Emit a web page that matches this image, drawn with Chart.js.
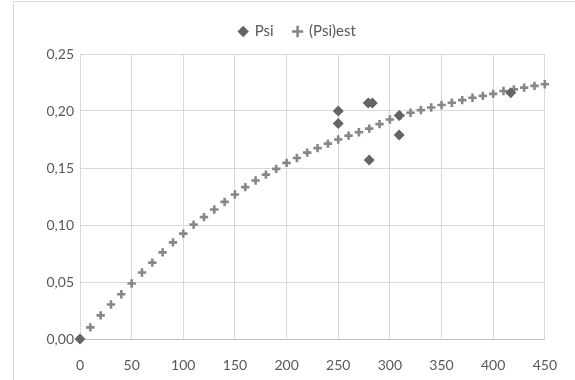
<!DOCTYPE html>
<html>
<head>
<meta charset="utf-8">
<script src="https://cdn.jsdelivr.net/npm/chart.js@4/dist/chart.umd.min.js"></script>
<style>
  html, body { margin: 0; padding: 0; background: #ffffff; }
  #wrap { position: relative; width: 575px; height: 380px; }
</style>
</head>
<body>
<div id="wrap"><canvas id="c" width="575" height="380"></canvas></div>
<script>
// ---- data ----
const psiX = [0, 250, 250, 279, 283, 280, 309, 309, 417];
const psiY = [0.000, 0.200, 0.189, 0.207, 0.207, 0.157, 0.179, 0.196, 0.216];

const estX = [10, 20, 30, 40, 50, 60, 70, 80, 90, 100,
              110, 120, 130, 140, 150, 160, 170, 180, 190, 200,
              210, 220, 230, 240, 250, 260, 270, 280, 290, 300,
              310, 320, 330, 340, 350, 360, 370, 380, 390, 400,
              410, 420, 430, 440, 450];
const estY = [0.0102, 0.0207, 0.0303, 0.0393, 0.0487, 0.0583, 0.0670, 0.0760, 0.0848, 0.0924,
              0.1003, 0.1069, 0.1136, 0.1203, 0.1267, 0.1332, 0.1390, 0.1442, 0.1492, 0.1545,
              0.1588, 0.1635, 0.1674, 0.1714, 0.1750, 0.1784, 0.1814, 0.1845, 0.1885, 0.1925,
              0.1960, 0.1984, 0.2008, 0.2031, 0.2052, 0.2072, 0.2095, 0.2116, 0.2133, 0.2150,
              0.2175, 0.2190, 0.2205, 0.2220, 0.2235];

const seriesNames = ["Psi", "(Psi)est"];
const yTicks = { min: 0, max: 0.25, step: 0.05 };
const xTicks = { min: 0, max: 450, step: 50 };

const toPts = (xs, ys) => xs.map((x, i) => ({ x: x, y: ys[i] }));

const FONT = "Lato, 'Open Sans', 'Liberation Sans', sans-serif";
const TXT = "#595959";
const GRID = "#d9d9d9";

const frame = {
  id: 'frame',
  beforeDraw(chart) {
    const ctx = chart.ctx;
    ctx.save();
    ctx.fillStyle = '#ffffff';
    ctx.fillRect(0, 0, chart.width, chart.height);
    ctx.strokeStyle = GRID;
    ctx.lineWidth = 1;
    ctx.beginPath();
    ctx.moveTo(13.5, 380);
    ctx.lineTo(13.5, 1.5);
    ctx.lineTo(575, 1.5);
    ctx.stroke();
    ctx.restore();
  }
};

const legendFit = {
  id: 'legendFit',
  beforeLayout(chart) {
    const lg = chart.legend;
    if (lg && !lg._patched) {
      const orig = lg.fit;
      lg.fit = function () { orig.call(this); this.height = 50; };
      lg._patched = true;
    }
  }
};

new Chart(document.getElementById('c'), {
  type: 'scatter',
  data: {
    datasets: [
      {
        label: seriesNames[0],
        data: toPts(psiX, psiY),
        pointStyle: 'rectRot',
        pointRadius: 5.5,
        pointHoverRadius: 5.5,
        backgroundColor: '#646464',
        borderColor: '#646464',
        borderWidth: 0,
        clip: false
      },
      {
        label: seriesNames[1],
        data: toPts(estX, estY),
        pointStyle: 'cross',
        pointRadius: 4.2,
        pointHoverRadius: 4.2,
        backgroundColor: '#878787',
        borderColor: '#878787',
        borderWidth: 2.6,
        clip: false
      }
    ]
  },
  options: {
    responsive: false,
    animation: false,
    devicePixelRatio: 1,
    layout: { padding: { left: 47, right: 27, top: 4, bottom: 0 } },
    plugins: {
      tooltip: { enabled: false },
      legend: {
        position: 'top',
        align: 'center',
        labels: {
          usePointStyle: true,
          boxWidth: 8,
          boxHeight: 8,
          padding: 20,
          color: TXT,
          font: { family: FONT, size: 15 }
        }
      }
    },
    scales: {
      x: {
        type: 'linear',
        min: xTicks.min,
        max: xTicks.max,
        afterFit(s) { s.height = 41; },
        ticks: {
          stepSize: xTicks.step,
          color: TXT,
          padding: 18,
          font: { family: FONT, size: 14 },
          maxRotation: 0
        },
        grid: { color: GRID, lineWidth: 1, drawTicks: false },
        border: { color: '#bfbfbf', width: 1 }
      },
      y: {
        type: 'linear',
        min: yTicks.min,
        max: yTicks.max,
        afterFit(s) { s.width = 33; },
        ticks: {
          stepSize: yTicks.step,
          color: TXT,
          padding: 6,
          font: { family: FONT, size: 14 },
          callback: (v) => v.toFixed(2).replace('.', ',')
        },
        grid: { color: GRID, lineWidth: 1, drawTicks: false },
        border: { color: GRID, width: 1 }
      }
    }
  },
  plugins: [frame, legendFit]
});
</script>
</body>
</html>
